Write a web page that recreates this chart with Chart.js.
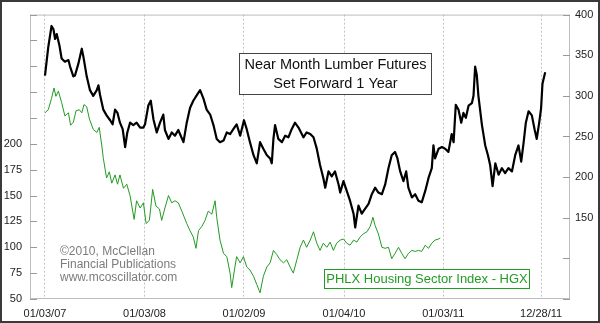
<!DOCTYPE html>
<html><head><meta charset="utf-8">
<script src="https://cdn.jsdelivr.net/npm/chart.js@4.4.1/dist/chart.umd.min.js"></script>
<style>html,body{margin:0;padding:0;background:#fff}canvas{display:block}</style>
</head><body>
<canvas id="c" width="600" height="323"></canvas>
<script>
// x values are days since 2007-01-03
const tickDays = [0, 365, 730, 1097, 1461, 1820];
const tickLabels = ['01/03/07', '01/03/08', '01/02/09', '01/04/10', '01/03/11', '12/28/11'];

// Near Month Lumber Futures, set forward 1 year (right axis)
const lumberDays = [0,12,24,31,37,43,53,61,73,86,92,104,110,122,135,141,153,165,177,190,196,202,214,226,239,248,257,266,275,285,294,302,312,324,336,349,361,367,379,388,398,410,422,434,440,
453,465,477,489,508,520,532,544,557,569,581,593,606,618,630,642,655,667,679,691,703,716,730,740,752,765,777,789,801,814,826,832,838,844,856,869,881,893,905,917,930,
948,960,973,985,997,1009,1021,1028,1040,1052,1064,1077,1083,1095,1107,1119,1132,1138,1150,1162,1174,1187,1199,1211,1223,1236,1248,1260,1272,1284,1293,1303,1315,1325,1333,1346,1358,1370,1382,1395,1407,1419,1425,1431,
1444,1456,1468,1480,1492,1499,1507,1517,1527,1535,1544,1554,1566,1572,1578,1584,1590,1603,1615,1625,1633,1642,1652,1664,1676,1688,1700,1713,1725,1737,1747,1756,1764,1774,1786,1796,1804,1813,1820,1825,1835];
const lumberValues = [325,360,386,382,370,376,362,346,342,344,336,324,325,339,358,348,324,307,300,307,313,301,283,276,270,265,283,279,267,259,237,255,267,264,267,261,261,265,288,294,271,255,267,277,258,
247,255,251,258,243,267,285,294,301,307,297,283,277,264,247,243,245,255,253,259,265,251,270,259,243,227,217,243,235,227,223,217,247,264,247,243,251,249,259,267,261,
249,255,253,249,235,215,199,187,207,201,207,191,181,195,183,171,155,138,165,155,161,167,179,187,181,179,191,211,227,231,223,207,195,207,187,175,179,171,169,183,199,211,239,223,
235,237,235,231,253,243,289,283,267,279,273,288,291,300,336,326,300,264,239,227,215,189,217,203,211,205,211,207,227,239,219,243,267,281,276,259,247,267,285,315,329];

// PHLX Housing Sector Index - HGX (left axis)
const hgxDays = [0,12,24,33,40,49,61,73,86,94,104,114,126,135,143,153,163,177,190,199,208,214,226,236,245,257,266,275,288,300,312,327,336,349,361,371,383,395,407,420,428,440,
453,465,477,489,502,520,532,544,554,563,575,587,599,612,624,630,642,655,667,679,685,695,703,716,728,740,752,765,777,789,801,814,826,838,850,862,875,887,899,911,924,936,
948,960,973,985,997,1009,1021,1034,1046,1058,1070,1083,1095,1107,1119,1132,1144,1156,1168,1181,1193,1203,1211,1223,1236,1248,1260,1272,1284,1297,1309,1321,1333,1346,1358,1370,1382,1395,1407,1419,1431,1444,1450];
const hgxValues = [230,233,244,254,246,251,240,227,230,218,221,232,233,230,238,236,224,214,211,216,199,186,167,173,162,170,161,170,157,161,150,127,145,138,143,123,126,156,140,137,126,138,
150,143,145,143,135,123,116,110,99,116,120,126,135,132,145,129,107,94,91,75,61,78,91,85,91,81,78,72,64,56,72,81,85,97,93,88,85,88,81,75,88,100,
107,100,107,115,104,97,104,100,105,97,104,107,108,104,102,107,105,110,113,115,120,129,121,113,100,99,100,89,94,100,94,89,94,97,96,97,96,102,99,104,107,108,109];

const titleLines = ['Near Month Lumber Futures', 'Set Forward 1 Year'];
const hgxLabel = 'PHLX Housing Sector Index - HGX';
const creditLines = ['\u00A92010, McClellan', 'Financial Publications', 'www.mcoscillator.com'];

const FONT = 'Arial, "Liberation Sans", sans-serif';
const GREEN = '#239b23';

const toPts = (xs, ys) => xs.map((x, i) => ({x: x, y: ys[i]}));

const decor = {
  id: 'decor',
  beforeDraw(chart) {
    const ctx = chart.ctx;
    ctx.save();
    ctx.fillStyle = '#fff';
    ctx.fillRect(0, 0, chart.width, chart.height);
    ctx.restore();
  },
  afterDatasetsDraw(chart) {
    const {ctx, chartArea: a, scales} = chart;
    ctx.save();
    // plot border
    ctx.strokeStyle = '#bdbdbd';
    ctx.lineWidth = 1;
    ctx.strokeRect(a.left + 0.5, a.top + 0.5, a.right - a.left - 1, a.bottom - a.top - 1);
    // inside tick marks
    ctx.strokeStyle = '#9a9a9a';
    ctx.beginPath();
    scales.yL.ticks.forEach(t => {
      const y = Math.round(scales.yL.getPixelForValue(t.value)) + 0.5;
      ctx.moveTo(a.left, y); ctx.lineTo(a.left + 7, y);
    });
    scales.yR.ticks.forEach(t => {
      const y = Math.round(scales.yR.getPixelForValue(t.value)) + 0.5;
      ctx.moveTo(a.right - 7, y); ctx.lineTo(a.right, y);
    });
    ctx.stroke();

    // title box
    ctx.fillStyle = '#fff';
    ctx.fillRect(239, 53, 192, 41);
    ctx.strokeStyle = '#444';
    ctx.strokeRect(239.5, 53.5, 192, 41);
    ctx.fillStyle = '#111';
    ctx.font = '14.5px ' + FONT;
    ctx.textAlign = 'center';
    ctx.textBaseline = 'middle';
    ctx.fillText(titleLines[0], 335.5, 65);
    ctx.fillText(titleLines[1], 335.5, 84);

    // HGX box
    ctx.fillStyle = '#fff';
    ctx.fillRect(324, 269, 205, 19);
    ctx.strokeStyle = GREEN;
    ctx.strokeRect(324.5, 269.5, 205, 19);
    ctx.fillStyle = GREEN;
    ctx.font = '13px ' + FONT;
    ctx.fillText(hgxLabel, 427, 279.5);

    // credits
    ctx.fillStyle = '#7c7c7c';
    ctx.font = '12px ' + FONT;
    ctx.textAlign = 'left';
    creditLines.forEach((s, i) => ctx.fillText(s, 60, 252 + i * 13));

    // outer frame
    ctx.strokeStyle = '#3a3a3a';
    ctx.lineWidth = 2;
    ctx.strokeRect(1, 1, chart.width - 2, chart.height - 2);
    ctx.restore();
  }
};

new Chart(document.getElementById('c'), {
  type: 'line',
  data: {
    datasets: [
      {
        label: 'HGX',
        data: toPts(hgxDays, hgxValues),
        yAxisID: 'yL',
        borderColor: GREEN,
        borderWidth: 1,
        pointRadius: 0,
        tension: 0,
        borderJoinStyle: 'round'
      },
      {
        label: 'Lumber',
        data: toPts(lumberDays, lumberValues),
        yAxisID: 'yR',
        borderColor: '#000',
        borderWidth: 2.2,
        pointRadius: 0,
        tension: 0,
        borderJoinStyle: 'round'
      }
    ]
  },
  options: {
    responsive: false,
    animation: false,
    devicePixelRatio: 1,
    layout: {padding: {top: 9, left: 0, right: 0, bottom: 0}},
    plugins: {legend: {display: false}, tooltip: {enabled: false}},
    scales: {
      x: {
        type: 'linear',
        min: -55,
        max: 1926,
        afterBuildTicks: s => { s.ticks = tickDays.map(v => ({value: v})); },
        afterFit: s => { s.height = 24; },
        grid: {display: true, drawTicks: false, color: '#c4c4c4', lineWidth: 1},
        border: {display: false, dash: [2, 2]},
        ticks: {
          padding: 8,
          maxRotation: 0,
          autoSkip: false,
          color: '#222',
          font: {family: FONT, size: 11},
          callback: (v, i) => tickLabels[i]
        }
      },
      yL: {
        type: 'linear',
        position: 'left',
        min: 50,
        max: 325,
        afterFit: s => { s.width = 30; },
        grid: {display: false, drawTicks: false},
        border: {display: false},
        ticks: {
          stepSize: 25,
          padding: 8,
          color: '#222',
          font: {family: FONT, size: 11},
          callback: v => (v <= 200 ? String(v) : '')
        }
      },
      yR: {
        type: 'linear',
        position: 'right',
        min: 50,
        max: 400,
        afterFit: s => { s.width = 30; },
        grid: {display: false, drawTicks: false},
        border: {display: false},
        ticks: {
          stepSize: 50,
          padding: 5,
          color: '#222',
          font: {family: FONT, size: 11},
          callback: v => (v >= 150 ? String(v) : '')
        }
      }
    }
  },
  plugins: [decor]
});
</script>
</body></html>
